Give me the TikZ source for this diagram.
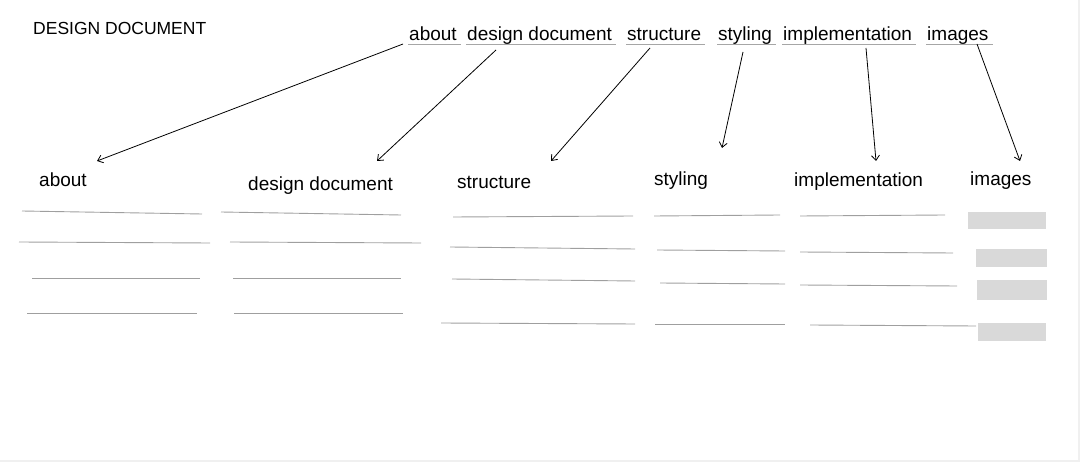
\documentclass[tikz,border=0pt]{standalone}
\usepackage{fontspec}
\setmainfont{Liberation Sans}
\usetikzlibrary{calc,arrows.meta}

\begin{document}
\begin{tikzpicture}[
    x=1pt, y=-1pt,
    menu item/.style={
        anchor=base west,
        inner sep=0pt,
        font=\fontsize{19}{22}\selectfont
    },
    heading/.style={
        anchor=base west,
        inner sep=0pt,
        font=\fontsize{19}{22}\selectfont
    },
    title/.style={
        anchor=base west,
        inner sep=0pt,
        font=\fontsize{17.5}{21}\selectfont
    },
    underline/.style={
        draw=gray!70,
        line width=0.9pt
    },
    rule line/.style={
        draw=gray!75,
        line width=0.9pt
    },
    image box/.style={
        fill=black!15,
        draw=none
    },
    link/.style={
        -{Straight Barb[length=5pt,width=8pt]},
        black,
        line width=0.8pt
    }
]

\useasboundingbox (0,0) rectangle (1080,462);
\draw[black!6, line width=1.5pt] (0,461) -- (1079,461) -- (1079,0);

%% --- Titre ---
\node[title] (T) at (33,35) {DESIGN DOCUMENT};

%% --- Menu ---
\node[menu item] (mAbout)  at (409,41) {about};
\node[menu item] (mDesign) at (467,41) {design document};
\node[menu item] (mStruct) at (627,41) {structure};
\node[menu item] (mStyle)  at (718,41) {styling};
\node[menu item] (mImpl)   at (783,41) {implementation};
\node[menu item] (mImg)    at (927,41) {images};

\foreach \m in {mAbout,mDesign,mStruct,mStyle,mImpl,mImg}
    \draw[underline] ($(\m.base west)+(-1,3)$) -- ($(\m.base east)+(4,3)$);

%% --- Rubriques ---
\node[heading] (hAbout)  at (39,187)  {about};
\node[heading] (hDesign) at (248,191) {design document};
\node[heading] (hStruct) at (457,189) {structure};
\node[heading] (hStyle)  at (654,186) {styling};
\node[heading] (hImpl)   at (794,187) {implementation};
\node[heading] (hImg)    at (970,186) {images};

%% --- Fleches menu -> rubriques ---
\draw[link] ($(mAbout.base west)+(-6,3)$)  -- ($(hAbout.base west)+(58,-26)$);
\draw[link] ($(mDesign.base west)+(29,9)$) -- ($(hDesign.base west)+(129,-30)$);
\draw[link] ($(mStruct.base west)+(23,7)$) -- ($(hStruct.base west)+(94,-28)$);
\draw[link] ($(mStyle.base west)+(25,11)$) -- ($(hStyle.base west)+(68,-38)$);
\draw[link] ($(mImpl.base west)+(83,7)$)   -- ($(hImpl.base west)+(82,-26)$);
\draw[link] ($(mImg.base west)+(50,3)$)    -- ($(hImg.base west)+(50,-25)$);

%% --- Lignes about / design document ---
\draw[rule line] (22,211) -- (202,214);
\draw[rule line] (19,242) -- (210,243);
\draw[rule line] (32,278) -- (200,278);
\draw[rule line] (27,313) -- (197,313);
\draw[rule line] (221,212) -- (401,215);
\draw[rule line] (230,242) -- (421,243);
\draw[rule line] (233,278) -- (401,278);
\draw[rule line] (234,313) -- (403,313);

%% --- Lignes structure / styling / implementation ---
\draw[rule line] (453,217) -- (633,216);
\draw[rule line] (450,247) -- (635,249);
\draw[rule line] (452,279) -- (635,281);
\draw[rule line] (441,323) -- (635,324);
\draw[rule line] (654,216) -- (780,215);
\draw[rule line] (657,250) -- (785,251);
\draw[rule line] (660,283) -- (785,284);
\draw[rule line] (655,324) -- (785,324);
\draw[rule line] (800,216) -- (945,215);
\draw[rule line] (800,252) -- (953,253);
\draw[rule line] (800,285) -- (957,286);
\draw[rule line] (810,325) -- (976,326);

%% --- Images ---
\fill[image box] (968,212) rectangle (1046,229);
\fill[image box] (976,249) rectangle (1047,267);
\fill[image box] (977,280) rectangle (1047,300);
\fill[image box] (978,323) rectangle (1046,341);

\end{tikzpicture}
\end{document}
